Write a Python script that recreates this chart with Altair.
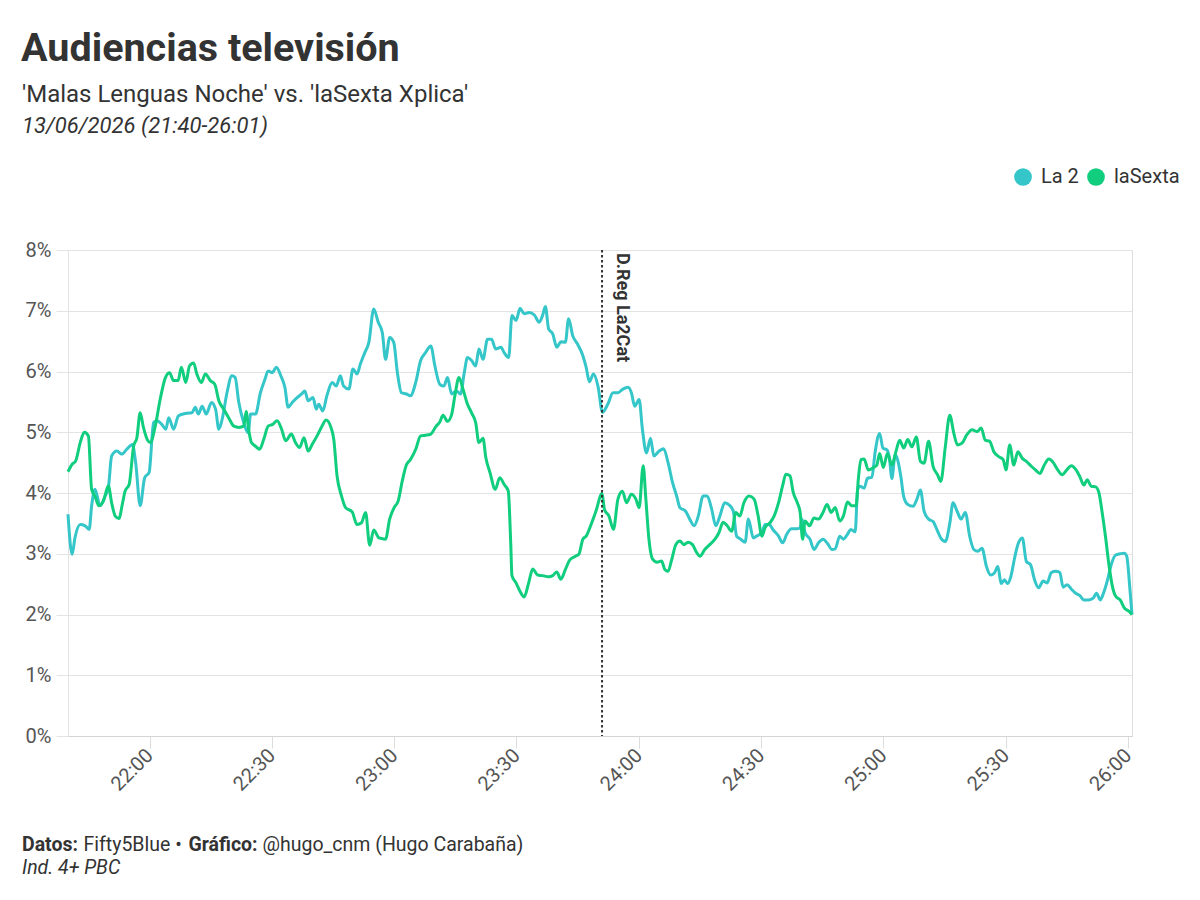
import altair as alt
import pandas as pd

# ---------------- texts ----------------
TITLE = "Audiencias televisión"
SUBTITLE = "'Malas Lenguas Noche' vs. 'laSexta Xplica'"
DATE_LINE = "13/06/2026 (21:40-26:01)"
FOOT_PARTS = ["Datos:", "Fifty5Blue •", "Gráfico:", "@hugo_cnm (Hugo Carabaña)"]
FOOT_BOLD = [True, False, True, False]
FOOT_NOTE = "Ind. 4+ PBC"

# ---------------- data (minutes after 21:40, share %) ----------------
la2_min = [0, 1, 1.7, 3, 4.2, 5.2, 5.8, 6.6, 7.9, 9.1, 9.9, 10.7, 12, 13.2, 14.4, 15.8, 16.6, 17.7,
           18.8, 19.9, 21, 21.8, 23, 24, 24.7, 25.9, 27.1, 28.8, 30.4, 31.2, 32, 32.9, 33.9, 35.2,
           36.2, 37, 37.8, 39, 40.2, 41, 41.9, 43.1, 44.2, 44.8, 46, 47.2, 48.3, 49.1, 50.1, 51.1,
           52.2, 53.2, 54, 55, 56.2, 57.3, 58.1, 58.9, 60.1, 60.9, 61.5, 62.5, 63.5, 64.8, 65.8,
           66.8, 67.6, 68.9, 69.9, 70.9, 71.7, 72.8, 73.8, 75, 76.1, 77.1, 77.9, 78.9, 79.9, 80.8,
           81.8, 83, 84, 85.3, 86.5, 87.7, 89, 90, 91.2, 92.2, 93.1, 94.1, 95.3, 96.3, 97.2, 98, 99,
           100, 100.8, 101.8, 102.9, 103.9, 104.9, 106.2, 107, 108.1, 108.9, 109.9, 110.9, 111.9,
           113.1, 114.4, 115.6, 116.4, 117.1, 117.9, 118.9, 119.9, 120.9, 122, 122.8, 123.8, 125,
           126.3, 127.1, 127.9, 128.9, 130, 131.1, 132.4, 133.7, 134.9, 136.1, 137.4, 138.2, 139,
           140.1, 140.9, 141.9, 142.9, 143.7, 145, 146.1, 147.2, 148.3, 149.3, 150.1, 151.5, 152.5,
           153.6, 154.6, 155.8, 156.8, 157.9, 158.9, 159.9, 161.1, 162.4, 163.2, 164, 165, 166.1,
           166.9, 168.1, 168.9, 170.2, 171, 172, 173, 174.3, 175.3, 176.3, 177.5, 178.8, 179.6, 180,
           180.8, 182, 183, 184.1, 185.2, 186.3, 187.4, 188.2, 189.3, 190.2, 191.2, 192, 193.1,
           193.7, 194.3, 195.3, 196.1, 197.2, 198, 199.1, 199.9, 200.9, 201.5, 202.1, 202.9, 203.5,
           204.3, 205, 206, 207.3, 208.2, 209.1, 210, 211.1, 212.2, 213.2, 214.1, 215.2, 216.3,
           217.1, 218.1, 219.1, 220.1, 221.2, 222.2, 223.2, 224.2, 225.3, 226.3, 227.2, 228.1,
           228.9, 229.7, 230.5, 231.3, 232.2, 233, 234.1, 235.1, 236.1, 237.1, 238.1, 239.2, 240.2,
           241.2, 242.3, 243.3, 244.1, 245.1, 246.1, 247.2, 248.2, 249.2, 250.4, 251.5, 252.3,
           253.2, 254, 255, 255.9, 257, 258.1, 259.1, 259.7, 260.5, 261]
la2_val = [3.65, 2.99, 3.26, 3.48, 3.46, 3.40, 3.79, 4.06, 3.79, 3.95, 4.09, 4.61, 4.69, 4.64, 4.72,
           4.80, 4.50, 3.79, 4.25, 4.34, 5.16, 5.19, 5.13, 5.05, 5.24, 5.05, 5.27, 5.31, 5.32, 5.41,
           5.30, 5.43, 5.30, 5.49, 5.38, 5.05, 5.21, 5.65, 5.93, 5.90, 5.49, 5.16, 4.99, 5.30, 5.30,
           5.65, 5.87, 6.01, 5.98, 6.07, 5.93, 5.74, 5.41, 5.49, 5.57, 5.63, 5.68, 5.52, 5.57, 5.38,
           5.46, 5.35, 5.60, 5.82, 5.76, 5.93, 5.76, 5.71, 6.04, 5.96, 6.12, 6.31, 6.48, 7.03, 6.81,
           6.64, 6.20, 6.56, 6.48, 5.98, 5.65, 5.63, 5.60, 5.82, 6.18, 6.31, 6.42, 6.09, 5.79, 5.76,
           5.90, 5.63, 5.68, 5.63, 5.98, 6.23, 6.18, 6.09, 6.37, 6.20, 6.53, 6.53, 6.37, 6.40, 6.31,
           6.23, 6.92, 6.84, 7.04, 6.95, 6.97, 6.93, 6.81, 6.92, 7.07, 6.70, 6.62, 6.40, 6.49, 6.48,
           6.87, 6.59, 6.45, 6.26, 6.07, 5.83, 5.96, 5.76, 5.33, 5.46, 5.65, 5.65, 5.71, 5.74, 5.65,
           5.43, 5.54, 5.05, 4.66, 4.90, 4.61, 4.69, 4.73, 4.50, 4.17, 3.95, 3.76, 3.70, 3.57, 3.46,
           3.62, 3.95, 3.95, 3.73, 3.46, 3.62, 3.84, 3.79, 3.70, 3.29, 3.24, 3.19, 3.57, 3.26, 3.29,
           3.35, 3.48, 3.48, 3.39, 3.29, 3.18, 3.32, 3.41, 3.41, 3.43, 3.57, 3.35, 3.24, 3.07, 3.18,
           3.24, 3.17, 3.07, 3.08, 3.29, 3.24, 3.32, 3.40, 3.36, 4.06, 4.11, 4.08, 4.24, 4.26, 4.68,
           4.98, 4.74, 4.71, 4.57, 4.24, 4.63, 4.55, 4.27, 3.94, 3.81, 3.78, 3.89, 4.05, 3.70, 3.57,
           3.53, 3.39, 3.26, 3.20, 3.50, 3.84, 3.70, 3.57, 3.68, 3.28, 3.07, 3.04, 3.09, 2.79, 2.65,
           2.68, 2.79, 2.51, 2.57, 2.51, 2.63, 2.93, 3.15, 3.26, 2.87, 2.82, 2.57, 2.44, 2.55, 2.52,
           2.69, 2.71, 2.69, 2.45, 2.49, 2.42, 2.35, 2.31, 2.24, 2.24, 2.27, 2.35, 2.24, 2.35, 2.57,
           2.82, 2.98, 3.00, 3.01, 2.96, 2.41, 2.00]

sexta_min = [0, 1, 1.9, 3, 4, 5, 5.8, 6.6, 7.6, 8.7, 9.9, 10.7, 11.6, 12.5, 13.4, 14, 15, 16.1, 16.9,
             17.7, 18.5, 19.6, 20.2, 21.4, 22.6, 23.9, 24.9, 25.9, 27, 27.8, 28.9, 29.8, 30.8, 31.6,
             32.7, 33.7, 34.9, 36, 37, 38.2, 39.4, 40.7, 41.9, 43.1, 43.7, 44.3, 45, 46, 47, 48, 49.1,
             50.2, 51.3, 52.4, 53.4, 54.8, 55.8, 56.8, 57.9, 58.9, 59.9, 61.1, 62.3, 63.3, 64.4, 65.2,
             66, 67.1, 68.1, 69.7, 70.9, 72, 73, 74, 75, 76.3, 77.9, 78.9, 80, 81, 82, 83, 84, 85.3,
             86.5, 87.7, 89, 90.2, 91.2, 92, 93.1, 94.1, 94.9, 95.9, 96.9, 98, 99, 100, 100.8, 101.8,
             102.5, 103.5, 104.8, 105.9, 107, 108, 108.6, 108.9, 109.9, 110.9, 111.9, 113, 114,
             115.2, 116.4, 117.9, 118.9, 119.9, 120.9, 122, 123.1, 124.5, 125.3, 126.3, 127.1, 128.3,
             129.5, 131, 131.6, 132.7, 133.8, 134.9, 136, 137, 138.2, 139.3, 140.1, 141.1, 141.7,
             142.5, 143.4, 144.5, 145.6, 146.4, 147.2, 148, 149.1, 150.1, 151.1, 152.1, 153.2, 154.2,
             155, 156.2, 157.4, 158.7, 159.7, 160.7, 161.7, 162.8, 163.8, 164.8, 165.8, 167.1, 168.3,
             169.3, 170.2, 171, 172.2, 173.2, 174.3, 175.3, 176.1, 177.1, 177.9, 178.9, 179.6, 180.2,
             180.8, 181.9, 183, 184.1, 185.2, 186.2, 187.2, 188.2, 189.3, 190.2, 191.2, 192.3, 193.3,
             193.9, 194.5, 195.3, 196.3, 197.6, 198.4, 199.1, 200, 201, 202.1, 203.2, 204, 205, 206,
             207, 208.1, 209.1, 210, 211.1, 212.2, 213.3, 214.1, 215.2, 216.3, 217.3, 218.2, 219.3,
             220.5, 221.8, 223, 224, 225, 226.1, 227.1, 228.3, 229.4, 230.1, 231, 232, 233, 234.1,
             235.1, 236.3, 237.3, 238.4, 239.4, 240.6, 241.7, 242.7, 243.9, 245, 246.1, 247.2, 248.2,
             249.2, 250, 251, 252.1, 252.9, 253.7, 254.5, 255.4, 256.2, 257, 258.1, 259.1, 260.3, 261]
sexta_val = [4.35, 4.47, 4.53, 4.83, 5.00, 4.94, 4.06, 3.95, 3.79, 3.87, 4.12, 3.84, 3.62, 3.58, 3.84,
             4.03, 4.14, 4.77, 4.91, 5.32, 5.08, 4.86, 4.83, 5.10, 5.54, 5.90, 5.98, 5.85, 5.85, 6.07,
             5.82, 6.09, 6.14, 5.96, 5.82, 5.96, 5.85, 5.79, 5.52, 5.38, 5.24, 5.10, 5.08, 5.10, 5.34,
             5.05, 4.83, 4.77, 4.72, 4.88, 5.10, 5.13, 5.19, 5.05, 4.86, 4.97, 4.83, 4.75, 4.91, 4.69,
             4.80, 4.94, 5.10, 5.20, 5.10, 4.88, 4.28, 3.95, 3.76, 3.69, 3.48, 3.51, 3.68, 3.14, 3.39,
             3.26, 3.24, 3.57, 3.76, 3.87, 4.20, 4.46, 4.55, 4.72, 4.94, 4.95, 4.97, 5.09, 5.17, 5.28,
             5.18, 5.29, 5.60, 5.90, 5.71, 5.46, 5.32, 5.16, 4.83, 4.90, 4.58, 4.34, 4.06, 4.25, 4.14,
             4.03, 3.18, 2.64, 2.52, 2.38, 2.29, 2.52, 2.75, 2.65, 2.64, 2.62, 2.64, 2.70, 2.58, 2.74,
             2.90, 2.96, 2.99, 3.24, 3.29, 3.48, 3.70, 3.99, 3.73, 3.62, 3.40, 3.90, 4.03, 3.84, 3.98,
             3.90, 3.76, 4.45, 3.95, 3.24, 2.91, 2.86, 2.88, 2.74, 2.71, 2.88, 3.15, 3.21, 3.15, 3.19,
             3.15, 3.02, 2.96, 3.07, 3.15, 3.24, 3.35, 3.52, 3.46, 3.37, 3.68, 3.62, 3.84, 3.95, 3.90,
             3.62, 3.29, 3.43, 3.51, 3.62, 3.84, 4.12, 4.31, 4.28, 4.01, 3.84, 3.68, 3.24, 3.54, 3.46,
             3.59, 3.57, 3.68, 3.81, 3.68, 3.76, 3.54, 3.62, 3.85, 3.79, 3.79, 4.25, 4.55, 4.56, 4.38,
             4.42, 4.46, 4.65, 4.42, 4.65, 4.46, 4.71, 4.87, 4.74, 4.88, 4.76, 4.92, 4.52, 4.49, 4.85,
             4.44, 4.30, 4.19, 4.76, 5.28, 4.98, 4.79, 4.82, 4.96, 5.04, 5.01, 5.07, 4.87, 4.85, 4.68,
             4.60, 4.55, 4.38, 4.79, 4.46, 4.68, 4.57, 4.52, 4.44, 4.38, 4.32, 4.45, 4.56, 4.50, 4.39,
             4.30, 4.38, 4.45, 4.39, 4.27, 4.13, 4.22, 4.11, 4.10, 4.00, 3.67, 3.28, 2.79, 2.46, 2.30,
             2.24, 2.11, 2.05, 2.00]

series_names = ["La 2", "laSexta"]
series_colors = ["#34c6c8", "#10ce7e"]

x_tick_min = [20, 50, 80, 110, 140, 170, 200, 230, 260]
x_tick_labels = ["22:00", "22:30", "23:00", "23:30", "24:00", "24:30", "25:00", "25:30", "26:00"]
y_ticks = [0, 1, 2, 3, 4, 5, 6, 7, 8]

event_min = [131]
event_label = ["D.Reg La2Cat"]

# ---------------- frames ----------------
df = pd.concat([
    pd.DataFrame({"min": la2_min, "share": la2_val, "channel": series_names[0]}),
    pd.DataFrame({"min": sexta_min, "share": sexta_val, "channel": series_names[1]}),
], ignore_index=True)
legend_df = pd.DataFrame({"min": [0, 0], "share": [0, 0], "channel": series_names})
events_df = pd.DataFrame({"min": event_min, "label": event_label})

W, H = 1064, 486
FONT = "Roboto"

label_expr = ("[" + ",".join(f"'{l}'" for l in x_tick_labels) + "][indexof(["
              + ",".join(str(m) for m in x_tick_min) + "], datum.value)]")

x_enc = alt.X("min:Q", scale=alt.Scale(domain=[0, 261], nice=False, zero=False),
              axis=alt.Axis(values=x_tick_min, labelExpr=label_expr, labelAngle=315,
                            labelAlign="right", labelBaseline="middle", labelFontSize=20,
                            labelColor="#555555", labelFont=FONT, labelPadding=4,
                            tickSize=12, tickColor="#dddddd", domainColor="#d4d4d4",
                            grid=False, title=None, labelFlush=False))
y_enc = alt.Y("share:Q", scale=alt.Scale(domain=[0, 8], nice=False),
              axis=alt.Axis(values=y_ticks, labelExpr="datum.value + '%'", labelFontSize=20,
                            labelColor="#555555", labelFont=FONT, labelPadding=5,
                            tickSize=12, tickColor="#e3e3e3", gridColor="#e3e3e3",
                            domainColor="#e3e3e3", grid=True, title=None))
color_scale = alt.Scale(domain=series_names, range=series_colors)

lines = alt.Chart(df).mark_line(strokeWidth=3, interpolate="monotone").encode(
    x=x_enc, y=y_enc,
    color=alt.Color("channel:N", scale=color_scale, legend=None),
)

legend_layer = alt.Chart(legend_df).mark_circle(size=0, opacity=1).encode(
    x="min:Q", y="share:Q",
    color=alt.Color("channel:N", scale=color_scale,
                    legend=alt.Legend(orient="none", legendX=945, legendY=-83,
                                      direction="horizontal", title=None,
                                      symbolType="circle", symbolSize=314,
                                      symbolStrokeWidth=0, symbolOpacity=1,
                                      labelFontSize=20, labelColor="#333333",
                                      labelFont=FONT, labelOffset=8, columnPadding=7,
                                      padding=0)),
)

rule = alt.Chart(events_df).mark_rule(color="#333333", strokeWidth=2, strokeDash=[2.5, 2.5]).encode(
    x="min:Q")
rule_text = alt.Chart(events_df).mark_text(
    angle=90, align="left", baseline="alphabetic", dx=3, dy=-15, fontSize=18,
    fontWeight="bold", font=FONT, color="#333333").encode(
    x="min:Q", y=alt.value(0), text="label:N")


def txt(s, x, y, size, weight="normal", style="normal", color="#333333"):
    return alt.Chart(pd.DataFrame({"t": [s]})).mark_text(
        align="left", baseline="middle", fontSize=size, fontWeight=weight,
        fontStyle=style, font=FONT, color=color).encode(
        x=alt.value(x), y=alt.value(y), text="t:N")


header = [
    txt(TITLE, -47, -201, 39.5, weight="bold", color="#333333"),
    txt(SUBTITLE, -46, -155, 24, color="#333333"),
    txt(DATE_LINE, -46, -124, 22, style="italic", color="#333333"),
]
foot_x = [-46, 15.5, 120.5, 194.5]
footer = [txt(p, fx, 595, 19.5, weight=("bold" if b else "normal"))
          for p, fx, b in zip(FOOT_PARTS, foot_x, FOOT_BOLD)]
footer.append(txt(FOOT_NOTE, -46, 618, 19.5, style="italic"))

chart = alt.layer(lines, legend_layer, rule, rule_text, *header, *footer).resolve_legend(
    color="independent"
).properties(
    width=W, height=H,
    autosize=alt.AutoSizeParams(type="none"),
    padding={"left": 60, "top": 242, "right": 60, "bottom": 150},
).configure_view(stroke=None).configure(font=FONT)

chart.save("out.html", embed_options={"renderer": "svg", "actions": False})
